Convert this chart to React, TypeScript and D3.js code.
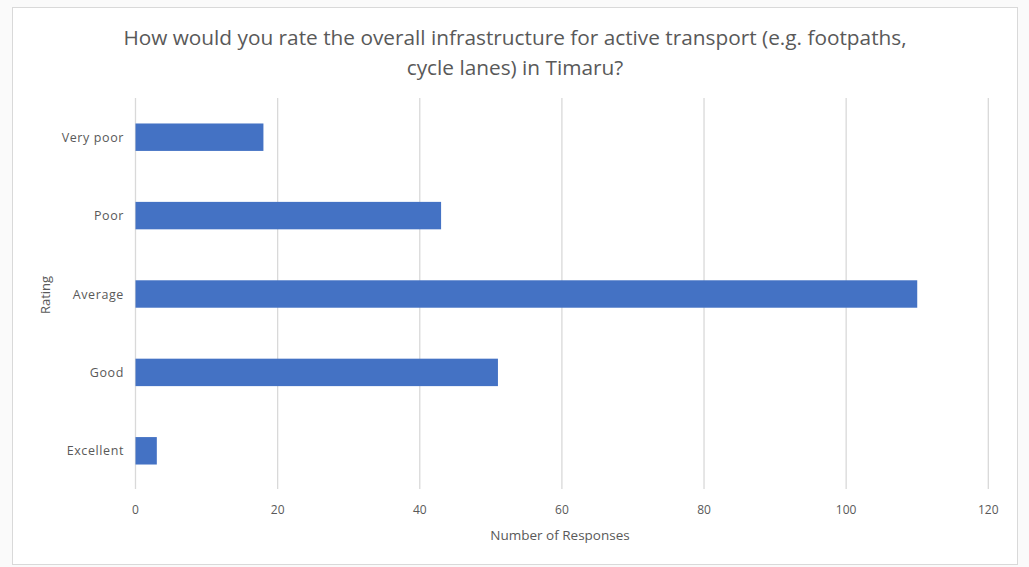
import React from "react";
import * as d3 from "d3";

const categories = ["Very poor", "Poor", "Average", "Good", "Excellent"];
const values = [18, 43, 110, 51, 3];
const xTicks = [0, 20, 40, 60, 80, 100, 120];
const titleLines = [
  "How would you rate the overall infrastructure for active transport (e.g. footpaths,",
  "cycle lanes) in Timaru?",
];

const W = 1029;
const H = 567;
const FONT = "'Open Sans', sans-serif";
const TXT = "#595959";

export default function App() {
  const x = d3.scaleLinear().domain([0, 120]).range([135.5, 988.3]);
  const y = d3.scaleBand().domain(categories).range([98, 490]).paddingInner(0.65).paddingOuter(0.325);
  return (
    <svg width={W} height={H} style={{ position: "absolute", left: 0, top: 0 }}>
      <rect x={0} y={0} width={W} height={H} fill="#fafafa" />
      <rect x={12.5} y={7.5} width={1005} height={557} fill="#ffffff" stroke="#d9d9d9" strokeWidth={1} />
      {titleLines.map((t, i) => (
        <text key={i} x={515} y={45 + i * 30} textAnchor="middle" fontFamily={FONT} fontSize={20.8} fill={TXT}>
          {t}
        </text>
      ))}
      {xTicks.map((t) => (
        <g key={t}>
          <line x1={x(t)} x2={x(t)} y1={98} y2={489} stroke="#d9d9d9" strokeWidth={1.3} />
          <text x={x(t)} y={514} textAnchor="middle" fontFamily={FONT} fontSize={12} fill={TXT}>
            {t}
          </text>
        </g>
      ))}
      {categories.map((c, i) => (
        <g key={c}>
          <rect x={x(0)} y={y(c)!} width={x(values[i]) - x(0)} height={y.bandwidth()} fill="#4472C4" />
          <text x={124} y={y(c)! + y.bandwidth() / 2 + 4.5} textAnchor="end" fontFamily={FONT} fontSize={12.5} letterSpacing={0.6} fill={TXT}>
            {c}
          </text>
        </g>
      ))}
      <text x={560} y={540} textAnchor="middle" fontFamily={FONT} fontSize={13.5} fill={TXT}>
        Number of Responses
      </text>
      <text transform={`translate(50,295) rotate(-90)`} textAnchor="middle" fontFamily={FONT} fontSize={13} fill={TXT}>
        Rating
      </text>
    </svg>
  );
}
